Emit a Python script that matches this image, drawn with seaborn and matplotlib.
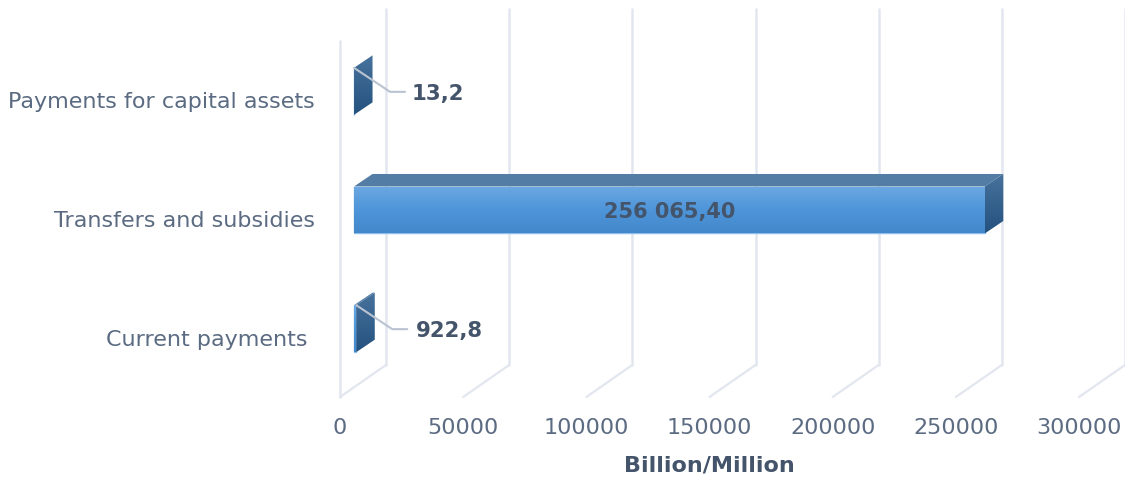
import numpy as np
import pandas as pd
import matplotlib
matplotlib.use("Agg")
import matplotlib.pyplot as plt
from matplotlib.colors import LinearSegmentedColormap
from matplotlib.patches import Polygon
from matplotlib.transforms import Affine2D
import seaborn as sns

categories = ["Payments for capital assets", "Transfers and subsidies", "Current payments"]
values = [13.2, 256065.40, 922.8]
value_labels = ["13,2", "256 065,40", "922,8"]
x_ticks = [0, 50000, 100000, 150000, 200000, 250000, 300000]
x_label = "Billion/Million"

TEXT = "#5B6B82"
DARK = "#44546A"
GRID = "#E2E6EF"
LEADER = "#B9C3D1"
FONT = "DejaVu Sans"

sns.set_theme(style="white")
plt.rcParams["font.family"] = FONT

fig = plt.figure(figsize=(11.25, 4.8), dpi=100, facecolor="white")
ax = fig.add_axes([340 / 1125, (480 - 397) / 480, 739 / 1125, 356 / 480])

df = pd.DataFrame({"category": categories, "value": values})
sns.barplot(data=df, x="value", y="category", orient="h", width=0.396,
            color="#4F94D8", saturation=1, ax=ax, zorder=3)

ax.set_xlim(0, 300000)
ax.set_ylim(2.5, -0.5)
px_x = 300000 / 739
px_y = 3 / 356

# Pseudo-3D depth of the chart box and of the bars, in data units
box_dx, box_dy = 46 * px_x, 32 * px_y
bar_x0, bar_y0 = 14 * px_x, 9 * px_y
bar_dx, bar_dy = 18.5 * px_x, 12.5 * px_y

# Floor diagonals and back-wall verticals
for v in x_ticks:
    ax.plot([v, v + box_dx], [2.5, 2.5 - box_dy], color=GRID, lw=1.6,
            clip_on=False, zorder=1, solid_capstyle="round")
    ax.plot([v + box_dx] * 2, [2.5 - box_dy, -0.5 - box_dy], color=GRID, lw=1.8,
            clip_on=False, zorder=1)
ax.plot([0, 0], [2.5, -0.5], color=GRID, lw=1.8, clip_on=False, zorder=1)

front_cmap = LinearSegmentedColormap.from_list("front", ["#6CA8E2", "#4E95D9", "#4388CB"])
side_cmap = LinearSegmentedColormap.from_list("side", ["#47729C", "#24527F"])
grad = np.linspace(0, 1, 64).reshape(-1, 1)


def shaded_face(points, cmap, z):
    pts = np.array(points)
    clip = Polygon(pts, closed=True, transform=ax.transData, fc="none", ec="none")
    im = ax.imshow(grad, cmap=cmap, aspect="auto", zorder=z, interpolation="bilinear",
                   extent=(pts[:, 0].min(), pts[:, 0].max(),
                           pts[:, 1].max(), pts[:, 1].min()))
    im.set_clip_path(clip)


for bar in ax.patches:
    bar.set_x(bar.get_x() + bar_x0)
    bar.set_y(bar.get_y() - bar_y0)
    bar.set_edgecolor("#8DBDEB")
    bar.set_linewidth(1.0)
    x0, x1 = bar.get_x(), bar.get_x() + bar.get_width()
    top, bottom = bar.get_y(), bar.get_y() + bar.get_height()
    # top face
    ax.add_patch(Polygon([(x0, top), (x0 + bar_dx, top - bar_dy),
                          (x1 + bar_dx, top - bar_dy), (x1, top)],
                         closed=True, fc="#547DA5", ec="none", zorder=2))
    # end face
    shaded_face([(x1, top), (x1 + bar_dx, top - bar_dy),
                 (x1 + bar_dx, bottom - bar_dy), (x1, bottom)], side_cmap, 4)
    # front face
    shaded_face([(x0, top), (x1, top), (x1, bottom), (x0, bottom)], front_cmap, 3.5)

ax.set_xlim(0, 300000)
ax.set_ylim(2.5, -0.5)

ax.set_xticks(x_ticks)
ax.set_xticklabels([str(t) for t in x_ticks], fontsize=16, color=TEXT)
ax.tick_params(axis="x", length=0, pad=15)
ax.set_yticks(range(len(categories)))
ax.set_yticklabels(categories, fontsize=16, color=TEXT)
ax.tick_params(axis="y", length=0, pad=18)
for lab, shift in zip(ax.get_yticklabels(), [0, 0, -8]):
    lab.set_transform(lab.get_transform() + Affine2D().translate(shift, 0))
ax.set_xlabel(x_label, fontsize=16, fontweight="bold", color=DARK, labelpad=13)
ax.set_ylabel("")
sns.despine(ax=ax, left=True, bottom=True, top=True, right=True)

# Value labels: leader lines for the two thin bars, centred text on the long one
for i, (v, lab) in enumerate(zip(values, value_labels)):
    bar = ax.patches[i]
    top = bar.get_y()
    if v < 50000:
        start = bar.get_x() + bar.get_width()
        ax.plot([start, start + 36 * px_x, start + 51 * px_x],
                [top, top + 24 * px_y, top + 24 * px_y],
                color=LEADER, lw=1.5, zorder=5)
        ax.text(start + 58 * px_x + min(v, 1000) * 0.5, top + 26 * px_y, lab, fontsize=15.3,
                fontweight="bold", color=DARK, va="center", ha="left", zorder=6)
    else:
        ax.text(bar.get_x() + v / 2, top + bar.get_height() / 2 + 2 * px_y, lab, fontsize=15,
                fontweight="bold", color=DARK, va="center", ha="center", zorder=6)

fig.savefig("out.png", dpi=100, facecolor="white")
